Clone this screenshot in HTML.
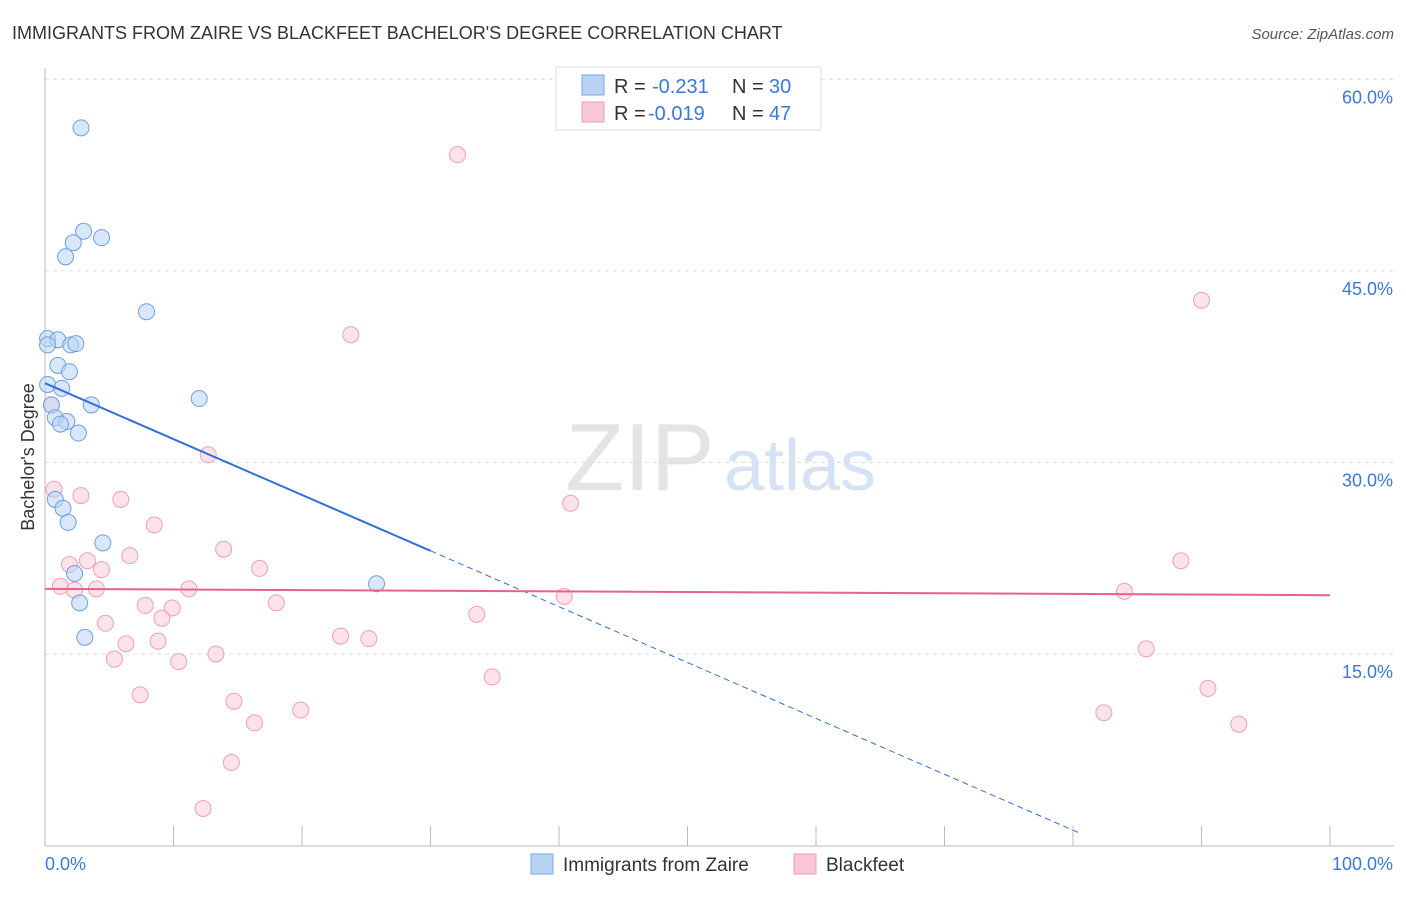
<!DOCTYPE html>
<html><head><meta charset="utf-8"><style>
body{margin:0;background:#fff;font-family:"Liberation Sans",sans-serif;}
svg text{font-family:"Liberation Sans",sans-serif;}
</style></head><body>
<svg id="chart" width="1406" height="892">
<text x="12" y="39" font-size="18" fill="#333">IMMIGRANTS FROM ZAIRE VS BLACKFEET BACHELOR'S DEGREE CORRELATION CHART</text>
<text x="1394" y="39" font-size="15" fill="#555" text-anchor="end" font-style="italic">Source: ZipAtlas.com</text>
<text x="640" y="490" font-size="96" fill="#e4e4e4" font-family="Liberation Serif" text-anchor="middle">ZIP</text>
<text x="800" y="490" font-size="72" fill="#d5e3f5" text-anchor="middle">atlas</text>
<g id="grid"></g><g id="axes"></g><g id="marks"></g>
<text transform="translate(34,457) rotate(-90)" font-size="18" fill="#333" text-anchor="middle">Bachelor's Degree</text>
<g>
<rect x="556" y="67" width="265" height="63" fill="#fff" stroke="#ddd"/>
<rect x="582" y="75" width="22" height="20" fill="#b9d3f5" stroke="#7aa7e6"/>
<text x="614" y="93" font-size="20" fill="#333">R = </text><text x="652" y="93" font-size="20" fill="#3b78d8">-0.231</text>
<text x="732" y="93" font-size="20" fill="#333">N = </text><text x="769" y="93" font-size="20" fill="#3b78d8">30</text>
<rect x="582" y="102" width="22" height="20" fill="#f9c8d6" stroke="#ee9ab3"/>
<text x="614" y="120" font-size="20" fill="#333">R = </text><text x="648" y="120" font-size="20" fill="#3b78d8">-0.019</text>
<text x="732" y="120" font-size="20" fill="#333">N = </text><text x="769" y="120" font-size="20" fill="#3b78d8">47</text>
</g>
<g>
<rect x="531" y="854" width="22" height="20" fill="#b9d3f5" stroke="#7aa7e6"/>
<text x="563" y="871" font-size="19" fill="#333">Immigrants from Zaire</text>
<rect x="794" y="854" width="22" height="20" fill="#f9c8d6" stroke="#ee9ab3"/>
<text x="826" y="871" font-size="19" fill="#333">Blackfeet</text>
</g>
</svg>
<script>
const yTicks=[15,30,45,60];
const xTickLabels=["0.0%","100.0%"];
const blueX=[2.8,3.0,2.2,4.4,1.6,7.9,0.2,1.0,0.2,2.0,2.4,1.0,1.9,0.2,1.3,3.6,0.5,12.0,0.8,1.7,1.2,2.6,0.8,1.4,1.8,4.5,2.3,2.7,3.1,25.8];
const blueY=[56.2,48.1,47.2,47.6,46.1,41.8,39.7,39.6,39.2,39.2,39.3,37.6,37.1,36.1,35.8,34.5,34.5,35.0,33.5,33.2,33.0,32.3,27.1,26.4,25.3,23.7,21.3,19.0,16.3,20.5];
const pinkX=[32.1,23.8,90.0,12.7,40.9,0.7,2.8,5.9,8.5,13.9,6.6,3.3,1.9,16.7,4.4,1.2,2.3,4.0,11.2,88.4,84.0,40.4,7.8,9.9,18.0,9.1,4.7,33.6,6.3,8.8,23.0,25.2,13.3,5.4,10.4,85.7,34.8,7.4,14.7,90.5,19.9,16.3,82.4,92.9,14.5,12.3,0.5];
const pinkY=[54.1,40.0,42.7,30.6,26.8,27.9,27.4,27.1,25.1,23.2,22.7,22.3,22.0,21.7,21.6,20.3,20.0,20.1,20.1,22.3,19.9,19.5,18.8,18.6,19.0,17.8,17.4,18.1,15.8,16.0,16.4,16.2,15.0,14.6,14.4,15.4,13.2,11.8,11.3,12.3,10.6,9.6,10.4,9.5,6.5,2.9,34.5];
const NS="http://www.w3.org/2000/svg";
const X0=45,X1=1330,Y0=845.5,PX=12.77;
const sx=v=>X0+(X1-X0)*v/100, sy=v=>Y0-v*PX;
function mk(t,a,p){const e=document.createElementNS(NS,t);for(const k in a)e.setAttribute(k,a[k]);p.appendChild(e);return e;}
const grid=document.getElementById('grid'),axes=document.getElementById('axes'),marks=document.getElementById('marks');
yTicks.forEach(v=>{
 const l=mk('line',{x1:X0,x2:1394,y1:sy(v),y2:sy(v),stroke:'#ddd','stroke-dasharray':'4,4'},grid);
 
 
 const t=mk('text',{x:1393,y:sy(v)+24,'font-size':18,fill:'#3b78d8','text-anchor':'end'},axes);
 t.textContent=v.toFixed(1)+'%';
 
 
});
const ax=mk('line',{x1:X0,x2:X0,y1:68,y2:846,stroke:'#bbb'},axes);


const bx=mk('line',{x1:X0,x2:1394,y1:846,y2:846,stroke:'#bbb'},axes);


for(let i=0;i<=10;i++){const t=mk('line',{x1:sx(i*10),x2:sx(i*10),y1:826,y2:846,stroke:'#bbb'},axes);
 
 }
[[0,X0,'start'],[1,1393,'end']].forEach(([i,x,a])=>{const t=mk('text',{x:x,y:870,'font-size':18,fill:'#3b78d8','text-anchor':a},axes);t.textContent=xTickLabels[i];
 
 });
pinkX.forEach((x,i)=>{const c=mk('circle',{cx:sx(x),cy:sy(pinkY[i]),r:8,fill:'rgba(249,200,214,0.5)',stroke:'#eea0b8','stroke-width':1},marks);
 
 });
blueX.forEach((x,i)=>{const c=mk('circle',{cx:sx(x),cy:sy(blueY[i]),r:8,fill:'rgba(185,211,245,0.55)',stroke:'#6f9fdf','stroke-width':1},marks);
 
 });
// trend lines
const bA=36.2,bB=-0.4375;
const tb=mk('line',{x1:sx(0),y1:sy(bA),x2:sx(30),y2:sy(bA+bB*30),stroke:'#2f6fdc','stroke-width':2},marks);


const td=mk('line',{x1:sx(30),y1:sy(bA+bB*30),x2:sx(80.5),y2:sy(bA+bB*80.5),stroke:'#2f6fdc','stroke-width':1,'stroke-dasharray':'6,4'},marks);


const tp=mk('line',{x1:sx(0),y1:sy(20.1),x2:sx(100),y2:sy(19.6),stroke:'#e8628e','stroke-width':2},marks);


</script>
</body></html>
